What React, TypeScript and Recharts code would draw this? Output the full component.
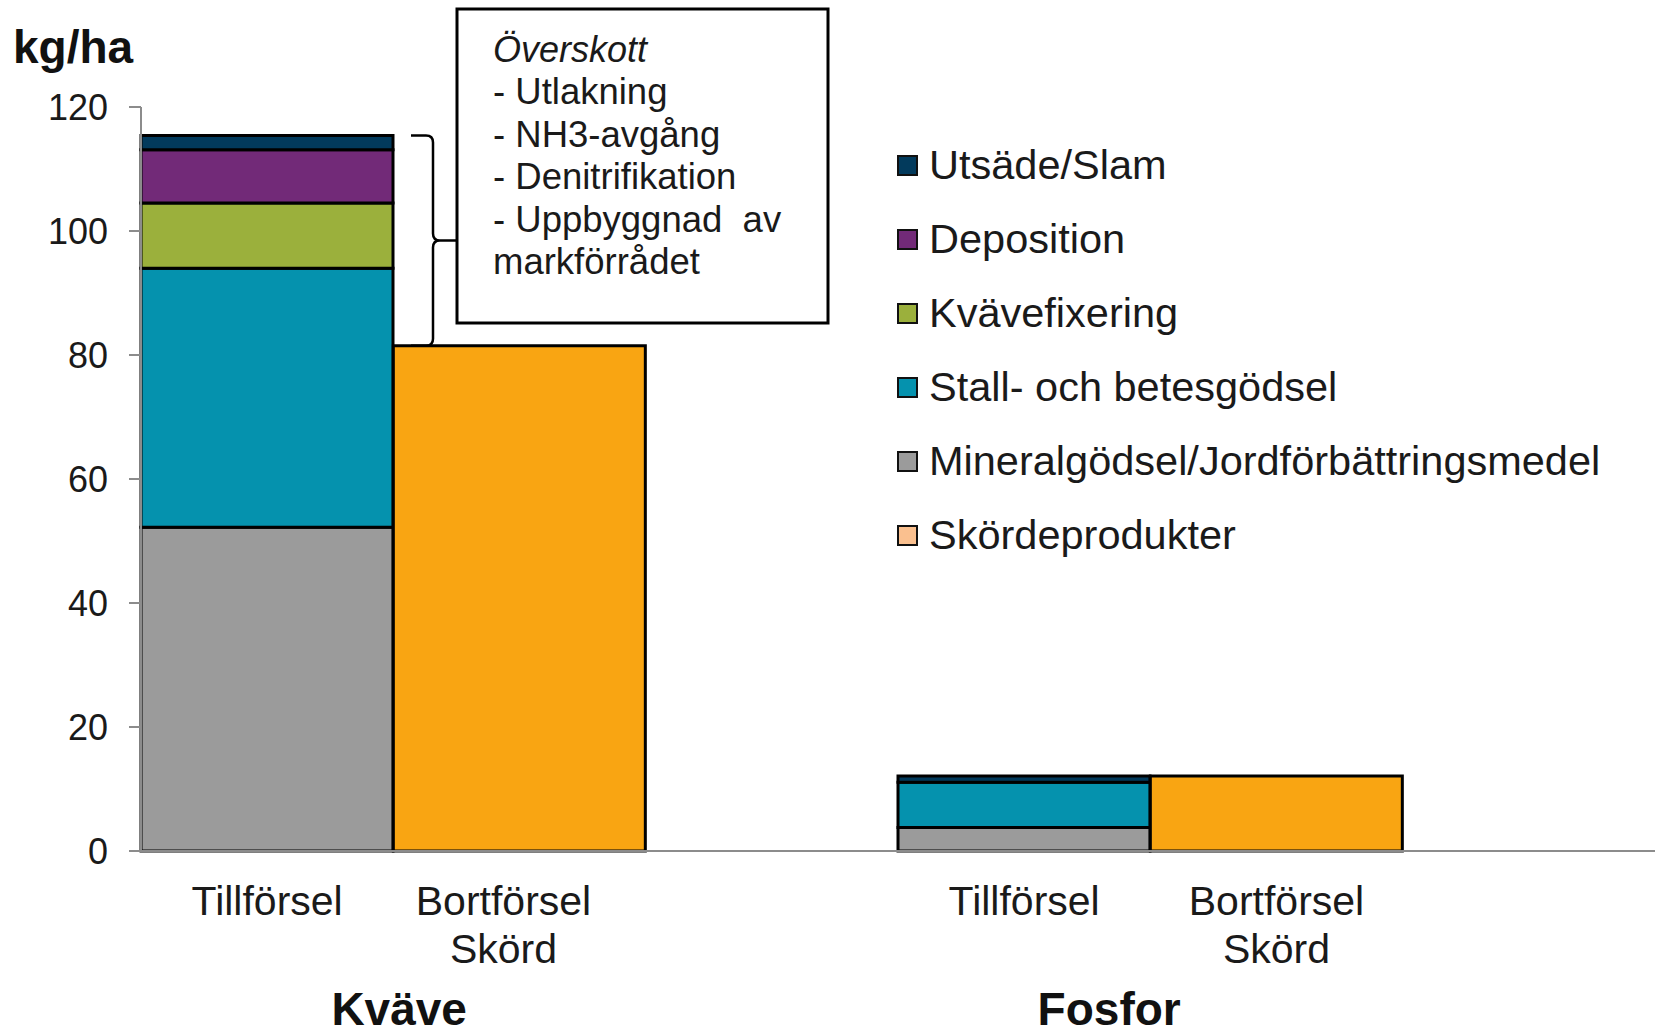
import React from 'react';
import { BarChart, Bar, XAxis, YAxis } from 'recharts';

// ---------- data ----------
const categories = ['Tillförsel', 'Bortförsel|Skörd', '', 'Tillförsel', 'Bortförsel|Skörd', ''];
const groupLabels = ['Kväve', 'Fosfor'];
const mineral = [52.2, null, null, 3.8, null, null];
const stall = [41.8, null, null, 7.3, null, null];
const kvavefix = [10.5, null, null, null, null, null];
const deposition = [8.6, null, null, null, null, null];
const utsade = [2.3, null, null, 1.0, null, null];
const skord = [null, 81.5, null, null, 12.1, null];
const yTicks = [0, 20, 40, 60, 80, 100, 120];
const annotationLines = ['- Utlakning', '- NH3-avgång', '- Denitrifikation', '- Uppbyggnad  av', 'markförrådet'];
const annotationTitle = 'Överskott';

const series = [
  { key: 'mineral', name: 'Mineralgödsel/Jordförbättringsmedel', color: '#9B9B9B', legendColor: '#9B9B9B', values: mineral },
  { key: 'stall', name: 'Stall- och betesgödsel', color: '#0592AE', legendColor: '#0592AE', values: stall },
  { key: 'kvavefix', name: 'Kvävefixering', color: '#9BB03C', legendColor: '#9BB03C', values: kvavefix },
  { key: 'deposition', name: 'Deposition', color: '#722A78', legendColor: '#722A78', values: deposition },
  { key: 'utsade', name: 'Utsäde/Slam', color: '#023A5C', legendColor: '#023A5C', values: utsade },
  { key: 'skord', name: 'Skördeprodukter', color: '#F9A512', legendColor: '#FAC08F', values: skord },
];

const data = categories.map((cat, i) => {
  const row: any = { cat };
  series.forEach((s) => {
    row[s.key] = s.values[i];
  });
  return row;
});

// ---------- layout ----------
const W = 1661;
const H = 1034;
const PLOT_TOP = 107;
const PLOT_LEFT = 141;
const X_AXIS_H = 183;
const PLOT_BOTTOM = H - X_AXIS_H;
const PLOT_H = PLOT_BOTTOM - PLOT_TOP;
const Y_MAX = 120;
const FONT = '"Liberation Sans", Arial, Helvetica, sans-serif';
const yPix = (v: number) => PLOT_TOP + (1 - v / Y_MAX) * PLOT_H;

const XTick = (props: any) => {
  const { x, payload, index } = props;
  const lines = String(payload.value).split('|').filter((l) => l.length > 0);
  const dx = index === 1 ? -16 : 0;
  let group: React.ReactNode = null;
  if (index === 0 || index === 3) {
    const gx = index === 0 ? x + 132 : x + 85;
    group = (
      <text x={gx} y={PLOT_BOTTOM + 174} textAnchor="middle" fontSize={46} fontWeight="bold" fill="#111" fontFamily={FONT}>
        {groupLabels[index === 0 ? 0 : 1]}
      </text>
    );
  }
  return (
    <g>
      {lines.map((l, k) => (
        <text key={k} x={x + dx} y={PLOT_BOTTOM + 64 + k * 48} textAnchor="middle" fontSize={41} fill="#1a1a1a" fontFamily={FONT}>
          {l}
        </text>
      ))}
      {group}
    </g>
  );
};

const legendItems = [...series.slice(0, 5).reverse(), series[5]];

export default function App() {
  const nTop = (mineral[0] || 0) + (stall[0] || 0) + (kvavefix[0] || 0) + (deposition[0] || 0) + (utsade[0] || 0);
  const bTop = yPix(nTop);
  const bBot = yPix(skord[1] || 0);
  const bMid = (bTop + bBot) / 2;
  const bx = 433;
  const r = 7;
  const bracket = [
    `M 411 ${bTop} L ${bx - r} ${bTop} Q ${bx} ${bTop} ${bx} ${bTop + r}`,
    `L ${bx} ${bMid - r} Q ${bx} ${bMid} ${bx + r} ${bMid} L 457 ${bMid}`,
    `M ${bx + r} ${bMid} Q ${bx} ${bMid} ${bx} ${bMid + r}`,
    `L ${bx} ${bBot - r} Q ${bx} ${bBot} ${bx - r} ${bBot} L 411 ${bBot}`,
  ].join(' ');

  return (
    <div style={{ position: 'absolute', left: 0, top: 0, width: W, height: H, background: '#fff' }}>
      <BarChart
        width={W}
        height={H}
        data={data}
        margin={{ top: PLOT_TOP, right: 6, bottom: 0, left: 0 }}
        barCategoryGap={0}
        barGap={0}
      >
        <XAxis
          dataKey="cat"
          interval={0}
          height={X_AXIS_H}
          tickLine={false}
          axisLine={{ stroke: '#8C8C8C', strokeWidth: 2 }}
          tick={<XTick />}
        />
        <YAxis
          type="number"
          domain={[0, Y_MAX]}
          ticks={yTicks}
          interval={0}
          width={PLOT_LEFT}
          tickSize={12}
          tickMargin={21}
          axisLine={{ stroke: '#8C8C8C', strokeWidth: 2 }}
          tickLine={{ stroke: '#8C8C8C', strokeWidth: 2 }}
          tick={{ fill: '#1a1a1a', fontSize: 36, fontFamily: FONT }}
        />
        {series.map((s) => (
          <Bar
            key={s.key}
            dataKey={s.key}
            name={s.name}
            stackId="a"
            fill={s.color}
            stroke="#000"
            strokeWidth={3}
            isAnimationActive={false}
          />
        ))}
      </BarChart>
      <div style={{ position: 'absolute', left: 897, top: 128, width: 764, fontFamily: FONT }}>
        {legendItems.map((s) => (
          <div key={s.key} style={{ display: 'flex', alignItems: 'center', height: 74 }}>
            <div
              style={{
                width: 17,
                height: 17,
                background: s.legendColor,
                border: '2px solid #111',
                marginRight: 11,
                flex: 'none',
              }}
            />
            <span style={{ fontSize: 41.5, color: '#1a1a1a', whiteSpace: 'nowrap', lineHeight: '74px' }}>{s.name}</span>
          </div>
        ))}
      </div>
      <svg
        width={W}
        height={H}
        style={{ position: 'absolute', left: 0, top: 0, pointerEvents: 'none' }}
      >
        <text x={13} y={63} fontSize={46} fontWeight="bold" fill="#111" fontFamily={FONT}>
          kg/ha
        </text>
        <path d={bracket} fill="none" stroke="#000" strokeWidth={2.5} />
        <rect x={457} y={9} width={371} height={314} fill="#fff" stroke="#000" strokeWidth={3} />
        <text x={493} y={62} fontSize={36} fontStyle="italic" fill="#1a1a1a" fontFamily={FONT}>
          {annotationTitle}
        </text>
        {annotationLines.map((l, i) => (
          <text
            key={i}
            x={493}
            y={104 + i * 42.6}
            fontSize={36.5}
            fill="#1a1a1a"
            fontFamily={FONT}
            style={{ whiteSpace: 'pre' }}
          >
            {l}
          </text>
        ))}
      </svg>
    </div>
  );
}
